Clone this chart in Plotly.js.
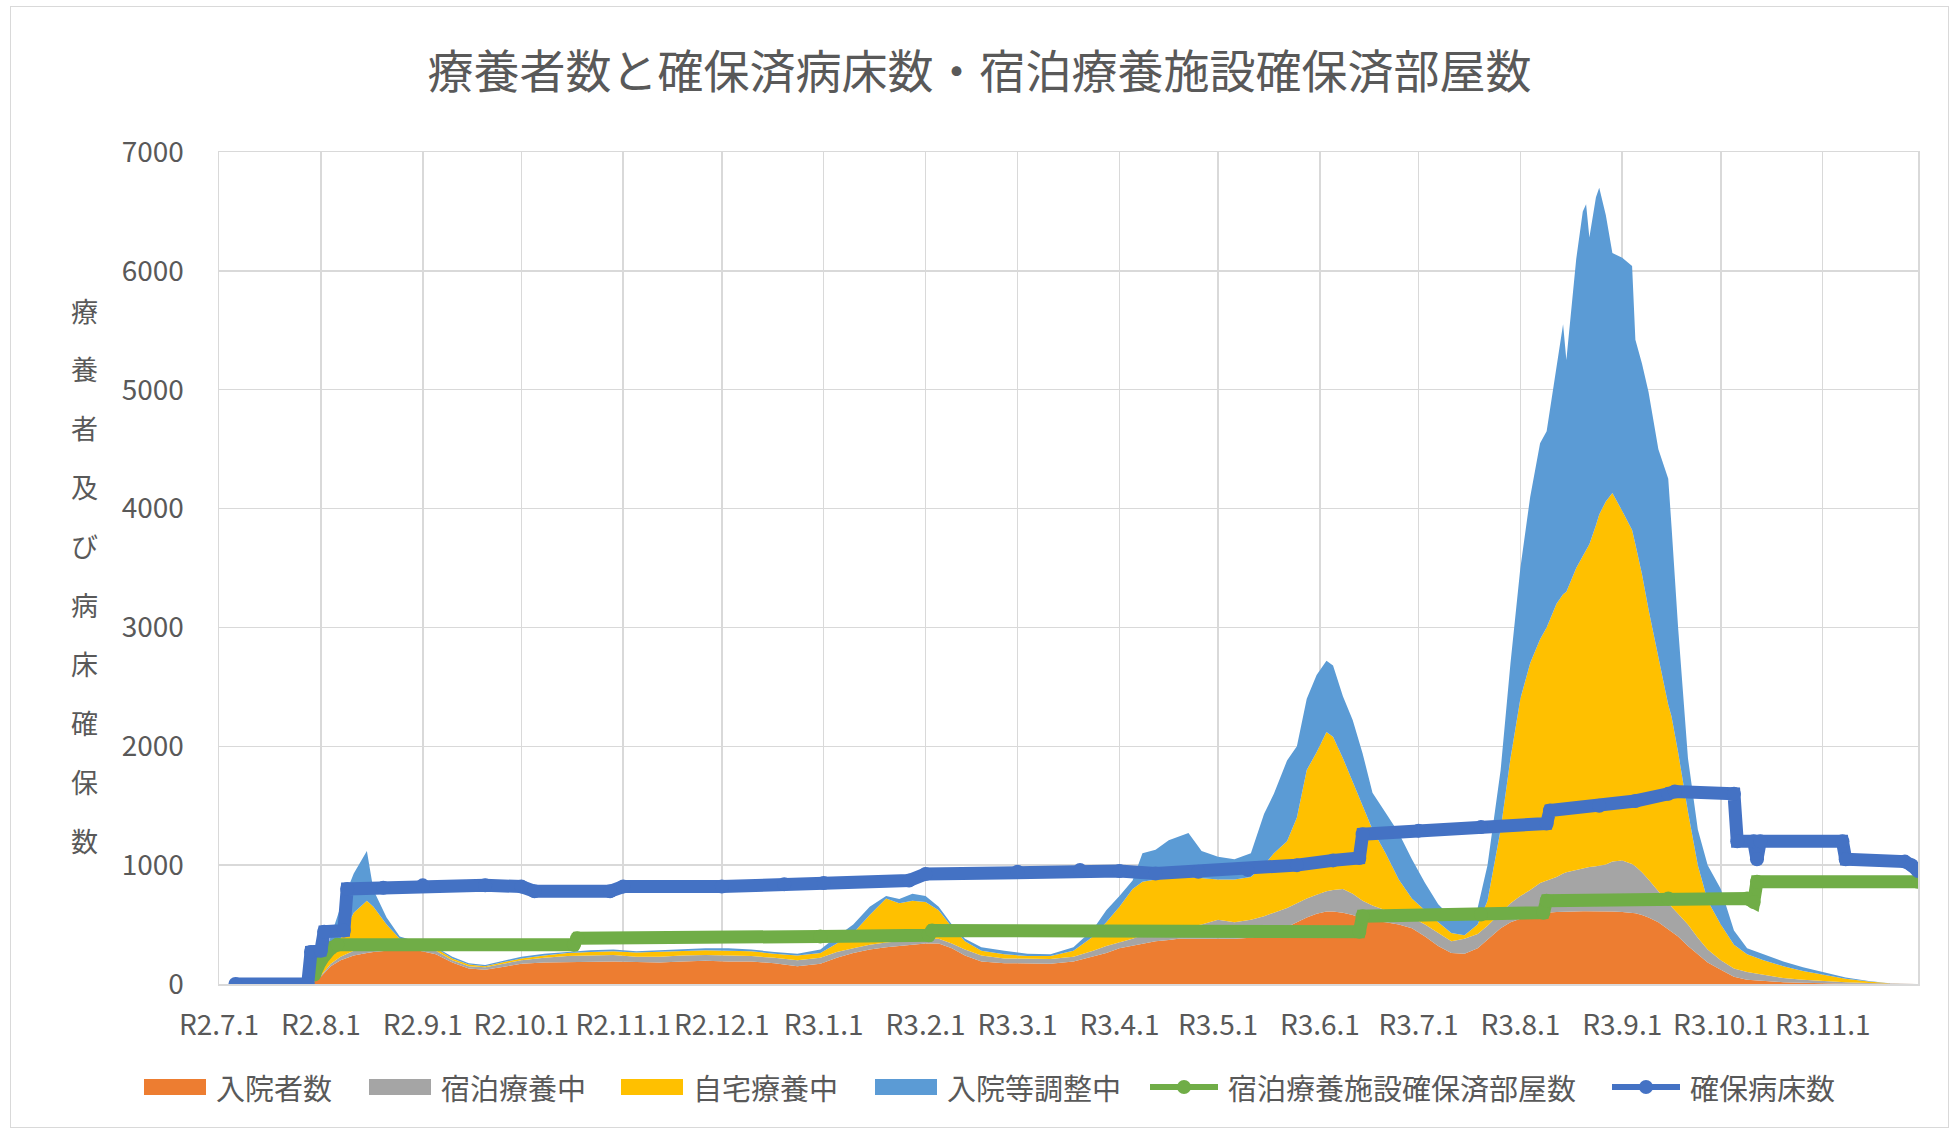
<!DOCTYPE html>
<html>
<head>
<meta charset="utf-8">
<script src="https://cdn.plot.ly/plotly-3.0.1.min.js"></script>
<style>
  html, body { margin: 0; padding: 0; background: #ffffff; }
  #wrap { position: relative; width: 1959px; height: 1135px; }
  #chart { width: 1959px; height: 1135px; }
  #frame { position: absolute; left: 10px; top: 6px; width: 1937px; height: 1120px;
           border: 1.5px solid #d9d9d9; pointer-events: none; }
</style>
</head>
<body>
<div id="wrap"><div id="chart"></div><div id="frame"></div></div>
<script>
// ---- data ----
const chartTitle = "療養者数と確保済病床数・宿泊療養施設確保済部屋数";
const yTitle = "療養者及び病床確保数";
const seriesNames = ["入院者数", "宿泊療養中", "自宅療養中", "入院等調整中", "宿泊療養施設確保済部屋数", "確保病床数"];

const tickDates = ["2020-07-01","2020-08-01","2020-09-01","2020-10-01","2020-11-01","2020-12-01",
  "2021-01-01","2021-02-01","2021-03-01","2021-04-01","2021-05-01","2021-06-01","2021-07-01",
  "2021-08-01","2021-09-01","2021-10-01","2021-11-01"];
const tickLabels = ["R2.7.1","R2.8.1","R2.9.1","R2.10.1","R2.11.1","R2.12.1","R3.1.1","R3.2.1",
  "R3.3.1","R3.4.1","R3.5.1","R3.6.1","R3.7.1","R3.8.1","R3.9.1","R3.10.1","R3.11.1"];

const dates = ["2020-07-01","2020-07-29","2020-08-01","2020-08-04","2020-08-07","2020-08-11","2020-08-15",
  "2020-08-17","2020-08-21","2020-08-25","2020-08-31","2020-09-05","2020-09-10","2020-09-15","2020-09-20",
  "2020-09-25","2020-10-01","2020-10-08","2020-10-15","2020-10-22","2020-10-29","2020-11-05","2020-11-12",
  "2020-11-19","2020-11-26","2020-12-03","2020-12-10","2020-12-17","2020-12-24","2020-12-31","2021-01-05",
  "2021-01-10","2021-01-15","2021-01-20","2021-01-24","2021-01-28","2021-02-01","2021-02-05","2021-02-09",
  "2021-02-13","2021-02-18","2021-02-25","2021-03-04","2021-03-11","2021-03-18","2021-03-24","2021-03-28",
  "2021-04-01","2021-04-05","2021-04-08","2021-04-12","2021-04-16","2021-04-19","2021-04-22","2021-04-26",
  "2021-05-01","2021-05-06","2021-05-11","2021-05-15","2021-05-18","2021-05-22","2021-05-25","2021-05-28",
  "2021-05-31","2021-06-03","2021-06-05","2021-06-08","2021-06-11","2021-06-14","2021-06-17","2021-06-21",
  "2021-06-25","2021-06-29","2021-07-03","2021-07-07","2021-07-11","2021-07-15","2021-07-19","2021-07-22",
  "2021-07-26","2021-07-29","2021-08-01","2021-08-04","2021-08-07","2021-08-09","2021-08-12","2021-08-14",
  "2021-08-15","2021-08-18","2021-08-20","2021-08-21","2021-08-22","2021-08-24","2021-08-25","2021-08-27",
  "2021-08-29","2021-09-01","2021-09-04","2021-09-05","2021-09-07","2021-09-09","2021-09-12","2021-09-15",
  "2021-09-16","2021-09-18","2021-09-21","2021-09-24","2021-09-27","2021-10-01","2021-10-05","2021-10-09",
  "2021-10-14","2021-10-20","2021-10-26","2021-11-01","2021-11-08","2021-11-15","2021-11-22","2021-11-30"];

const hospitalized = [0,0,60,150,200,240,260,270,280,290,280,250,180,130,120,140,170,180,185,190,190,185,180,
  190,195,190,190,175,150,170,220,260,290,310,320,330,340,340,300,240,190,175,170,170,190,230,260,300,320,340,
  360,370,380,380,380,380,380,390,410,440,480,520,560,590,610,610,600,580,550,530,520,500,470,400,320,260,255,
  300,370,470,520,550,570,590,600,605,608,608,610,612,612,612,612,612,612,610,605,600,595,580,560,520,460,440,
  400,320,250,180,120,60,35,25,15,10,5,3,2,0,0];
const hotelCare = [0,0,10,20,30,40,40,40,40,30,30,30,20,20,20,25,30,40,50,50,55,45,50,50,50,50,45,45,50,50,50,
  40,40,40,40,40,40,40,40,50,50,40,40,40,40,50,60,50,60,70,70,80,90,100,120,160,140,150,160,160,160,160,160,160,
  170,180,200,180,150,130,100,90,90,100,110,100,125,120,120,130,160,190,220,260,270,295,322,332,350,363,368,373,
  378,383,393,420,435,410,395,360,320,260,220,210,190,180,140,110,80,70,65,50,35,25,20,12,6,3,0];
const homeCare = [0,0,20,60,150,320,400,340,180,60,30,20,15,15,10,15,15,20,25,30,30,35,40,40,40,40,40,35,40,40,
  70,130,250,370,320,330,310,240,140,70,40,35,25,25,50,120,200,300,420,450,450,440,430,420,390,340,360,360,430,
  500,560,720,1080,1200,1340,1290,1100,940,790,640,480,290,160,120,90,70,30,80,210,700,1220,1660,1910,2050,2130,
  2300,2350,2360,2540,2625,2670,2715,2870,2955,3055,3100,2940,2810,2710,2510,2270,1970,1670,1600,1360,950,610,
  410,300,200,150,125,100,75,55,30,12,2,0];
const adjusting = [0,0,60,170,270,330,420,140,60,20,10,10,15,10,10,10,15,15,10,15,15,10,15,15,15,20,15,15,15,30,
  60,70,70,20,35,60,50,30,20,20,30,30,20,15,30,60,100,90,70,240,250,320,340,370,230,190,170,200,430,500,680,600,
  600,650,600,600,520,520,450,310,340,390,330,230,150,130,150,140,300,500,800,1100,1400,1650,1650,2000,2270,1950,
  2600,2900,2910,2580,2760,2750,2410,2020,2130,2220,1720,1770,1830,1750,1900,1600,1050,450,300,300,300,120,50,50,
  40,30,20,10,5,0,0];

const hotelRoomDates = ["2020-07-30","2020-08-01","2020-08-04","2020-08-06","2020-10-17","2020-10-18","2020-12-31",
  "2021-02-02","2021-02-03","2021-06-13","2021-06-14","2021-07-20","2021-08-08","2021-08-09","2021-09-15",
  "2021-10-09","2021-10-11","2021-10-12","2021-11-30"];
const hotelRooms = [80,200,300,330,330,385,400,410,450,440,570,585,600,700,720,720,690,860,860];

const bedDates = ["2020-07-06","2020-07-28","2020-07-29","2020-08-01","2020-08-02","2020-08-08","2020-08-09",
  "2020-08-20","2020-09-01","2020-09-20","2020-10-01","2020-10-05","2020-10-28","2020-11-01","2020-12-01",
  "2020-12-20","2021-01-01","2021-01-27","2021-02-01","2021-03-01","2021-03-20","2021-04-01","2021-04-12",
  "2021-04-25","2021-05-10","2021-05-25","2021-06-05","2021-06-13","2021-06-14","2021-07-01","2021-07-20",
  "2021-08-09","2021-08-10","2021-08-25","2021-09-05","2021-09-15","2021-09-17","2021-10-05","2021-10-06",
  "2021-10-11","2021-10-12","2021-10-13","2021-11-07","2021-11-08","2021-11-26","2021-11-28","2021-11-30"];
const beds = [0,0,270,280,440,450,800,810,830,830,820,780,780,820,820,840,850,870,925,945,960,950,930,945,960,
  1000,1040,1060,1260,1290,1320,1350,1460,1500,1540,1600,1620,1600,1200,1200,1050,1200,1200,1050,1030,1000,950];

// ---- styling ----
const TXT = "#595959";
const FONT = "'Noto Sans CJK JP', 'Noto Sans', sans-serif";
const GRID = "#d9d9d9";
const colors = ["#ED7D31", "#A5A5A5", "#FFC000", "#5B9BD5", "#70AD47", "#4472C4"];

// plot-area geometry in page pixels (for placing layout items)
const PL = 219, PR = 1918, PT = 152, PB = 984;
const px2x = p => (p - PL) / (PR - PL);
const px2y = p => (PB - p) / (PB - PT);

function area(i, y) {
  return { type: "scatter", mode: "lines", x: dates, y: y, name: seriesNames[i], stackgroup: "one",
           line: { width: 0, color: colors[i] }, fillcolor: colors[i], showlegend: false };
}

const traces = [
  area(0, hospitalized), area(1, hotelCare), area(2, homeCare), area(3, adjusting),
  { type: "scatter", mode: "lines+markers", x: hotelRoomDates, y: hotelRooms, name: seriesNames[4],
    line: { color: colors[4], width: 13 }, marker: { color: colors[4], size: 14 }, showlegend: false },
  { type: "scatter", mode: "lines+markers", x: bedDates, y: beds, name: seriesNames[5],
    line: { color: colors[5], width: 13 }, marker: { color: colors[5], size: 14 }, showlegend: false }
];

// upright vertical axis title, one character per row
const annotations = [];
Array.from(yTitle).forEach((c, i) => {
  annotations.push({ text: c, xref: "paper", yref: "paper", x: px2x(84), y: px2y(310 + i * 58.9),
    xanchor: "center", yanchor: "middle", showarrow: false,
    font: { family: FONT, size: 27, color: TXT } });
});

// legend drawn as layout items (wide swatches like the original)
const shapes = [];
const legendY = 1087;
const legendItems = [
  { sw: [144, 206], tx: 214, kind: "box" },
  { sw: [369, 431], tx: 439, kind: "box" },
  { sw: [621, 683], tx: 691, kind: "box" },
  { sw: [875, 937], tx: 945, kind: "box" },
  { sw: [1150, 1218], tx: 1226, kind: "line" },
  { sw: [1612, 1680], tx: 1688, kind: "line" }
];
legendItems.forEach((it, i) => {
  if (it.kind === "box") {
    shapes.push({ type: "rect", xref: "paper", yref: "paper", x0: px2x(it.sw[0]), x1: px2x(it.sw[1]),
      y0: px2y(legendY - 8), y1: px2y(legendY + 8), fillcolor: colors[i], line: { width: 0 } });
  } else {
    shapes.push({ type: "line", xref: "paper", yref: "paper", x0: px2x(it.sw[0]), x1: px2x(it.sw[1]),
      y0: px2y(legendY), y1: px2y(legendY), line: { color: colors[i], width: 6 } });
    shapes.push({ type: "circle", xref: "paper", yref: "paper", xsizemode: "pixel", ysizemode: "pixel",
      xanchor: px2x((it.sw[0] + it.sw[1]) / 2), yanchor: px2y(legendY), x0: -7, x1: 7, y0: -7, y1: 7,
      fillcolor: colors[i], line: { width: 0 } });
  }
  annotations.push({ text: seriesNames[i], xref: "paper", yref: "paper", x: px2x(it.tx), y: px2y(legendY),
    xanchor: "left", yanchor: "middle", showarrow: false,
    font: { family: FONT, size: 29, color: TXT } });
});

const layout = {
  width: 1959, height: 1135,
  margin: { l: PL, r: 1959 - PR, t: PT, b: 1135 - PB },
  paper_bgcolor: "#ffffff", plot_bgcolor: "#ffffff",
  font: { family: FONT, color: TXT },
  title: { text: chartTitle, x: 0.5, xanchor: "center", y: 1 - 72 / 1135, yanchor: "middle",
           font: { family: FONT, size: 46, color: TXT } },
  xaxis: { type: "date", range: ["2020-07-01", "2021-11-30"], tickmode: "array",
           tickvals: tickDates, ticktext: tickLabels, showgrid: true, gridcolor: GRID, gridwidth: 1.5,
           showline: true, mirror: true, linecolor: GRID, linewidth: 1.5, zeroline: false,
           ticks: "", ticklabelstandoff: 16, tickfont: { family: FONT, size: 28, color: TXT } },
  yaxis: { range: [0, 7000], dtick: 1000, tick0: 0, showgrid: true, gridcolor: GRID, gridwidth: 1.5,
           showline: true, mirror: true, linecolor: GRID, linewidth: 1.5, zeroline: false,
           ticks: "", ticklabelstandoff: 28, tickfont: { family: FONT, size: 28, color: TXT } },
  annotations: annotations,
  shapes: shapes,
  showlegend: false
};

Plotly.newPlot("chart", traces, layout, { displayModeBar: false, staticPlot: true });
</script>
</body>
</html>
